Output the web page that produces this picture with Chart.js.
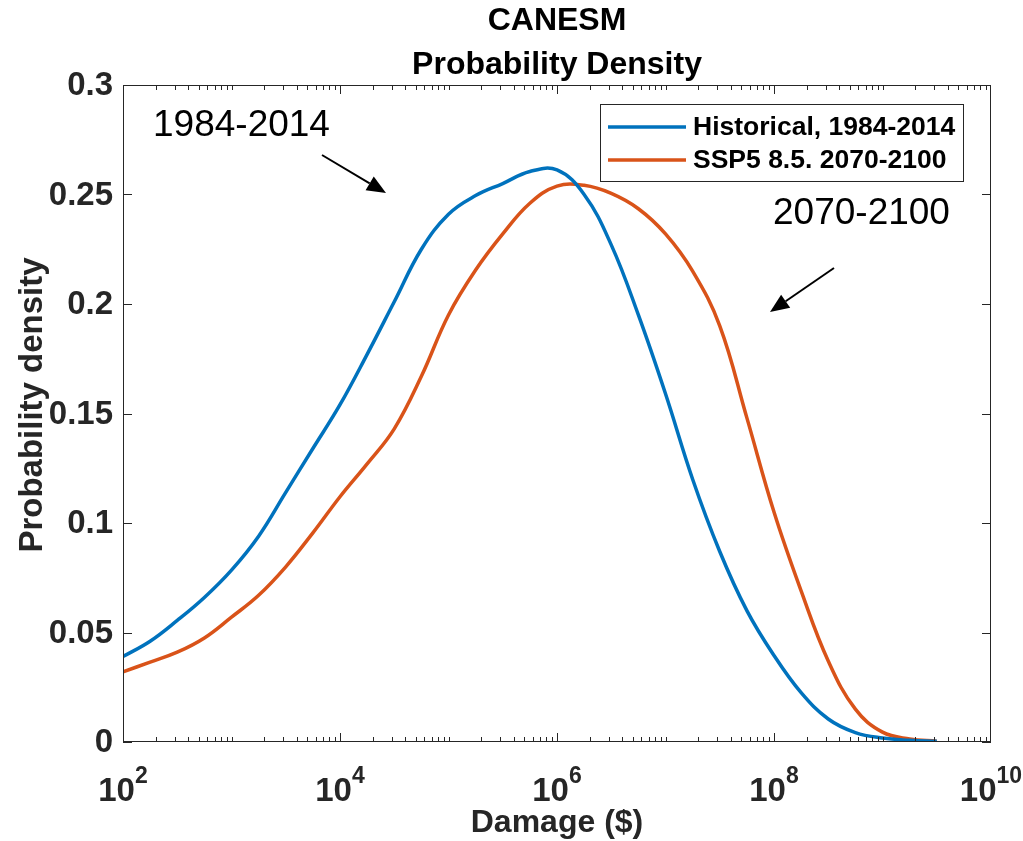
<!DOCTYPE html>
<html>
<head>
<meta charset="utf-8">
<title>CANESM Probability Density</title>
<script src="https://cdn.jsdelivr.net/npm/chart.js@4/dist/chart.umd.min.js"></script>
<style>
  html, body { margin: 0; padding: 0; background: #fff; }
  #wrap { width: 1023px; height: 841px; }
</style>
</head>
<body>
<div id="wrap"><canvas id="pdf-chart" width="1023" height="841"></canvas></div>
<script>
// Valeurs : exposant log10 des dommages ($), pas de 0.25
const logDamage = [2.00, 2.25, 2.50, 2.75, 3.00, 3.25, 3.50, 3.75, 4.00, 4.25, 4.50, 4.75, 5.00, 5.25, 5.50, 5.75, 6.00, 6.25, 6.50, 6.75, 7.00, 7.25, 7.50, 7.75, 8.00, 8.25, 8.50, 8.75, 9.00, 9.25, 9.50];
const histDensity = [0.039, 0.046, 0.0555, 0.066, 0.0785, 0.094, 0.114, 0.134, 0.154, 0.177, 0.201, 0.225, 0.241, 0.2495, 0.255, 0.2605, 0.2612, 0.250, 0.227, 0.195, 0.159, 0.120, 0.087, 0.060, 0.0395, 0.0225, 0.0105, 0.0043, 0.0018, 0.0008, 0.0003];
const sspDensity = [0.032, 0.0365, 0.041, 0.0475, 0.057, 0.067, 0.080, 0.0955, 0.112, 0.127, 0.143, 0.167, 0.195, 0.2155, 0.232, 0.246, 0.2538, 0.2542, 0.2505, 0.2435, 0.232, 0.215, 0.190, 0.148, 0.105, 0.069, 0.037, 0.015, 0.0045, 0.0014, 0.0004];

const seriesLabels = ["Historical, 1984-2014", "SSP5 8.5. 2070-2100"];
const seriesColors = ["#0072BD", "#D95319"];

// Axes
const xMin = 1e2, xMax = 1e10;
const xLabelExponents = [2, 4, 6, 8, 10];
const yTicks = [0, 0.05, 0.1, 0.15, 0.2, 0.25, 0.3];
const yTickLabels = ["0", "0.05", "0.1", "0.15", "0.2", "0.25", "0.3"];

const titleLines = ["CANESM", "Probability Density"];
const xTitle = "Damage ($)";
const yTitle = "Probability density";
const notes = ["1984-2014", "2070-2100"];

const FONT = '"Liberation Sans", Arial, Helvetica, sans-serif';
const AXIS_COLOR = "#262626";

function toPoints(logs, vals) {
    return logs.map((e, i) => ({ x: Math.pow(10, e), y: vals[i] }));
}

function arrow(ctx, x1, y1, x2, y2) {
    const ang = Math.atan2(y2 - y1, x2 - x1);
    const len = 19, half = 8;
    const bx = x2 - len * Math.cos(ang), by = y2 - len * Math.sin(ang);
    ctx.strokeStyle = "#000";
    ctx.fillStyle = "#000";
    ctx.lineWidth = 2;
    ctx.beginPath();
    ctx.moveTo(x1, y1);
    ctx.lineTo(bx, by);
    ctx.stroke();
    ctx.beginPath();
    ctx.moveTo(x2, y2);
    ctx.lineTo(bx + half * Math.sin(ang), by - half * Math.cos(ang));
    ctx.lineTo(bx - half * Math.sin(ang), by + half * Math.cos(ang));
    ctx.closePath();
    ctx.fill();
}

// Dessin façon MATLAB : cadre, graduations internes, libellés, légende, annotations
const matlabAxes = {
    id: "matlabAxes",
    afterDatasetsDraw(chart) {
        const ctx = chart.ctx;
        const a = chart.chartArea;
        const xs = chart.scales.x, ys = chart.scales.y;
        ctx.save();

        // cadre
        ctx.strokeStyle = AXIS_COLOR;
        ctx.lineWidth = 1;
        ctx.strokeRect(a.left + 0.5, a.top + 0.5, a.right - a.left - 1, a.bottom - a.top - 1);

        // graduations x (log) : longues aux décades paires, courtes ailleurs
        ctx.beginPath();
        for (let e = 2; e < 10; e++) {
            for (let k = 1; k <= 9; k++) {
                const v = k * Math.pow(10, e);
                const px = Math.round(xs.getPixelForValue(v)) + 0.5;
                const len = (k === 1 && xLabelExponents.includes(e)) ? 9 : 5;
                ctx.moveTo(px, a.bottom);
                ctx.lineTo(px, a.bottom - len);
                ctx.moveTo(px, a.top);
                ctx.lineTo(px, a.top + len);
            }
        }
        // graduations y
        yTicks.forEach(v => {
            const py = Math.round(ys.getPixelForValue(v)) + 0.5;
            ctx.moveTo(a.left, py);
            ctx.lineTo(a.left + 9, py);
            ctx.moveTo(a.right, py);
            ctx.lineTo(a.right - 9, py);
        });
        ctx.stroke();

        // libellés y
        ctx.fillStyle = AXIS_COLOR;
        ctx.font = "bold 33px " + FONT;
        ctx.textAlign = "right";
        ctx.textBaseline = "middle";
        yTicks.forEach((v, i) => {
            ctx.fillText(yTickLabels[i], a.left - 10, ys.getPixelForValue(v) + 1);
        });

        // libellés x : 10^n
        ctx.textBaseline = "alphabetic";
        ctx.textAlign = "left";
        xLabelExponents.forEach(e => {
            const px = xs.getPixelForValue(Math.pow(10, e));
            ctx.font = "bold 33px " + FONT;
            const wBase = ctx.measureText("10").width;
            ctx.font = "bold 23px " + FONT;
            const wExp = ctx.measureText(String(e)).width;
            const x0 = px - (wBase + wExp) / 2;
            ctx.font = "bold 33px " + FONT;
            ctx.fillText("10", x0, 801);
            ctx.font = "bold 23px " + FONT;
            ctx.fillText(String(e), x0 + wBase, 783);
        });

        // titres
        const cx = (a.left + a.right) / 2;
        ctx.fillStyle = "#000";
        ctx.textAlign = "center";
        ctx.textBaseline = "middle";
        ctx.font = "bold 32px " + FONT;
        ctx.fillText(titleLines[0], cx, 21);
        ctx.fillText(titleLines[1], cx, 65);

        ctx.fillStyle = AXIS_COLOR;
        ctx.font = "bold 32px " + FONT;
        ctx.fillText(xTitle, cx, 823);
        ctx.save();
        ctx.translate(33, 405);
        ctx.rotate(-Math.PI / 2);
        ctx.font = "bold 33px " + FONT;
        ctx.fillText(yTitle, 0, 0);
        ctx.restore();

        // légende
        const lg = { x: 600, y: 104, w: 363, h: 77 };
        ctx.fillStyle = "#fff";
        ctx.fillRect(lg.x, lg.y, lg.w, lg.h);
        ctx.strokeStyle = AXIS_COLOR;
        ctx.lineWidth = 1;
        ctx.strokeRect(lg.x + 0.5, lg.y + 0.5, lg.w, lg.h);
        ctx.font = "bold 26.5px " + FONT;
        ctx.textAlign = "left";
        ctx.textBaseline = "middle";
        [127, 160].forEach((ly, i) => {
            ctx.strokeStyle = seriesColors[i];
            ctx.lineWidth = 3.5;
            ctx.beginPath();
            ctx.moveTo(608, ly);
            ctx.lineTo(686, ly);
            ctx.stroke();
            ctx.fillStyle = "#000";
            ctx.fillText(seriesLabels[i], 693, ly + 1);
        });

        // annotations
        ctx.font = "37px " + FONT;
        ctx.fillStyle = "#000";
        ctx.textAlign = "left";
        ctx.textBaseline = "middle";
        ctx.fillText(notes[0], 153, 126);
        ctx.fillText(notes[1], 773, 214);
        arrow(ctx, 322, 155, 386, 193);
        arrow(ctx, 834, 268, 770, 312);

        ctx.restore();
    }
};

const chartInstance = new Chart(document.getElementById("pdf-chart"), {
    type: "line",
    data: {
        datasets: [
            {
                label: seriesLabels[0],
                data: toPoints(logDamage, histDensity),
                borderColor: seriesColors[0],
                borderWidth: 3.5,
                pointRadius: 0,
                tension: 0.4,
                fill: false
            },
            {
                label: seriesLabels[1],
                data: toPoints(logDamage, sspDensity),
                borderColor: seriesColors[1],
                borderWidth: 3.5,
                pointRadius: 0,
                tension: 0.4,
                fill: false
            }
        ]
    },
    options: {
        responsive: false,
        animation: false,
        devicePixelRatio: 1,
        layout: { padding: { left: 123, right: 32, top: 85, bottom: 99 } },
        scales: {
            x: { type: "logarithmic", min: xMin, max: xMax, display: false },
            y: { type: "linear", min: 0, max: 0.3, display: false }
        },
        plugins: {
            legend: { display: false },
            tooltip: { enabled: false }
        }
    },
    plugins: [matlabAxes]
});
</script>
</body>
</html>
